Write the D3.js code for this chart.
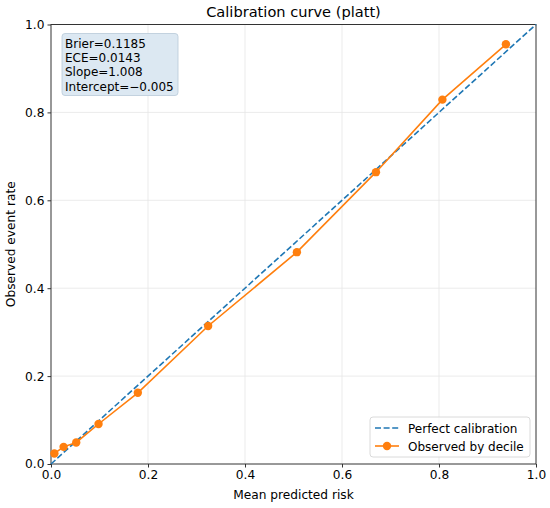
<!DOCTYPE html>
<html>
<head>
<meta charset="utf-8">
<script src="https://cdn.jsdelivr.net/npm/d3@7"></script>
<style>
  body { margin: 0; background: #fff; }
  text { font-family: "DejaVu Sans", sans-serif; fill: #000; }
</style>
</head>
<body>
<script>
// observed calibration by decile
var meanPred = [0.007, 0.026, 0.052, 0.098, 0.179, 0.324, 0.507, 0.670, 0.807, 0.938]
var obsRate  = [0.024, 0.039, 0.049, 0.091, 0.162, 0.314, 0.482, 0.664, 0.829, 0.955]
var ticks = [0, 0.2, 0.4, 0.6, 0.8, 1.0]
var statLines = ["Brier=0.1185", "ECE=0.0143", "Slope=1.008", "Intercept=\u22120.005"]
var legendLabels = ["Perfect calibration", "Observed by decile"]

var width = 550, height = 508
var margin = {left: 51, right: 14, top: 24.5, bottom: 44}

var svg = d3.select("body").append("svg")
    .attr("width", width)
    .attr("height", height)

var x = d3.scaleLinear().domain([0, 1]).range([margin.left, width - margin.right])
var y = d3.scaleLinear().domain([0, 1]).range([height - margin.bottom, margin.top])

// grid
svg.append("g").selectAll("line").data(ticks.slice(1, -1)).enter().append("line")
    .attr("x1", d => x(d)).attr("x2", d => x(d))
    .attr("y1", y(0)).attr("y2", y(1))
    .attr("stroke", "#e6e6e6").attr("stroke-width", 0.8)
svg.append("g").selectAll("line").data(ticks.slice(1, -1)).enter().append("line")
    .attr("y1", d => y(d)).attr("y2", d => y(d))
    .attr("x1", x(0)).attr("x2", x(1))
    .attr("stroke", "#e6e6e6").attr("stroke-width", 0.8)

// axes
var xAxis = svg.append("g")
    .attr("transform", "translate(0," + y(0) + ")")
    .call(d3.axisBottom(x).tickValues(ticks).tickFormat(d3.format(".1f")).tickSize(3.5).tickPadding(3))
var yAxis = svg.append("g")
    .attr("transform", "translate(" + x(0) + ",0)")
    .call(d3.axisLeft(y).tickValues(ticks).tickFormat(d3.format(".1f")).tickSize(3.5).tickPadding(3))
svg.selectAll(".domain").remove()
svg.selectAll(".tick text").style("font-size", "12.2px").attr("fill", "#000")
svg.selectAll(".tick line").attr("stroke", "#333")

// frame
svg.append("rect")
    .attr("x", x(0)).attr("y", y(1))
    .attr("width", x(1) - x(0)).attr("height", y(0) - y(1))
    .attr("fill", "none").attr("stroke", "#333").attr("stroke-width", 1)

// diagonal
svg.append("line")
    .attr("x1", x(0)).attr("y1", y(0)).attr("x2", x(1)).attr("y2", y(1))
    .attr("stroke", "#1f77b4").attr("stroke-width", 1.6)
    .attr("stroke-dasharray", "6,2.6")

// observed line
var line = d3.line().x((d, i) => x(meanPred[i])).y(d => y(d))
svg.append("path").datum(obsRate)
    .attr("d", line)
    .attr("fill", "none").attr("stroke", "#ff7f0e").attr("stroke-width", 1.6)
svg.append("g").selectAll("circle").data(obsRate).enter().append("circle")
    .attr("cx", (d, i) => x(meanPred[i])).attr("cy", d => y(d))
    .attr("r", 4.2).attr("fill", "#ff7f0e")

// title and labels
svg.append("text").attr("x", (x(0) + x(1)) / 2).attr("y", 17)
    .attr("text-anchor", "middle").style("font-size", "14.6px")
    .text("Calibration curve (platt)")
svg.append("text").attr("x", (x(0) + x(1)) / 2).attr("y", 499)
    .attr("text-anchor", "middle").style("font-size", "12.2px")
    .text("Mean predicted risk")
svg.append("text")
    .attr("transform", "translate(15," + (y(0) + y(1)) / 2 + ") rotate(-90)")
    .attr("text-anchor", "middle").style("font-size", "12.2px")
    .text("Observed event rate")

// stats box
svg.append("rect").attr("x", 62).attr("y", 33.5).attr("width", 116).attr("height", 62)
    .attr("rx", 3).attr("fill", "#dce8f2").attr("stroke", "#b8c9d8").attr("stroke-width", 0.8)
svg.append("g").selectAll("text").data(statLines).enter().append("text")
    .attr("x", 65).attr("y", (d, i) => 48 + i * 14.2)
    .style("font-size", "12px")
    .text(d => d)

// legend
svg.append("rect").attr("x", 370).attr("y", 417).attr("width", 160).attr("height", 40)
    .attr("rx", 3).attr("fill", "#fff").attr("fill-opacity", 0.8)
    .attr("stroke", "#d0d0d0").attr("stroke-width", 0.8)
svg.append("line").attr("x1", 375).attr("x2", 399).attr("y1", 428).attr("y2", 428)
    .attr("stroke", "#1f77b4").attr("stroke-width", 1.6).attr("stroke-dasharray", "6,2.6")
svg.append("line").attr("x1", 375).attr("x2", 399).attr("y1", 446).attr("y2", 446)
    .attr("stroke", "#ff7f0e").attr("stroke-width", 1.6)
svg.append("circle").attr("cx", 387).attr("cy", 446).attr("r", 4.2).attr("fill", "#ff7f0e")
svg.append("g").selectAll("text").data(legendLabels).enter().append("text")
    .attr("x", 408).attr("y", (d, i) => 432.5 + i * 18.3)
    .style("font-size", "12px")
    .text(d => d)
</script>
</body>
</html>
